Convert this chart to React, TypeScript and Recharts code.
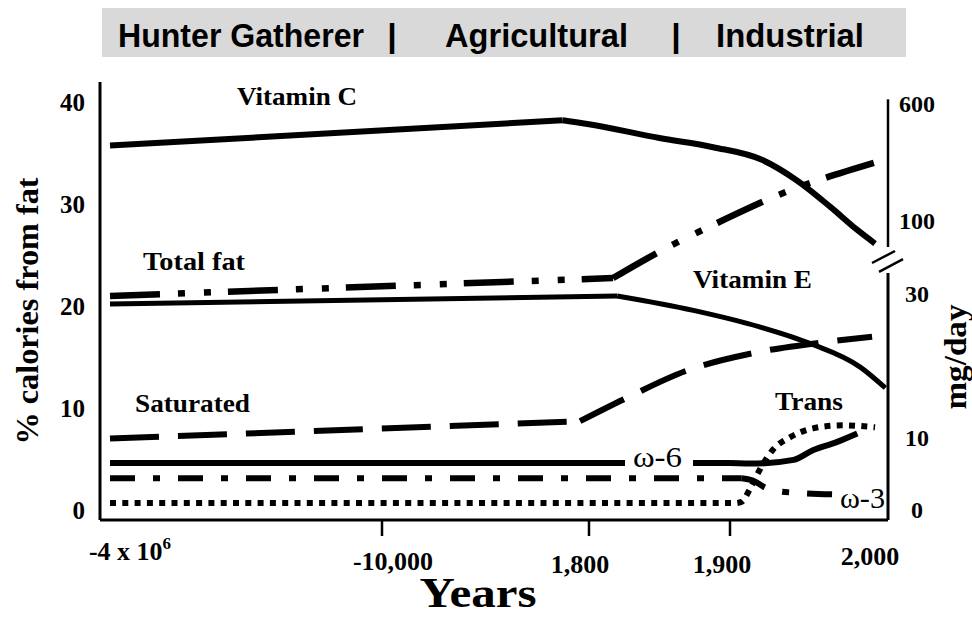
import React from 'react';
import { LineChart, Line, XAxis, YAxis, ReferenceLine } from 'recharts';

// tick values and labels
const YEAR_TICKS = [-4000000, -10000, 1800, 1900, 2000];
const YEAR_LABELS = ['-4 x 10', '-10,000', '1,800', '1,900', '2,000'];
const PCT_TICKS = [0, 10, 20, 30, 40];
const MG_TICKS = [0, 10, 30, 100, 600];

// [year, % calories from fat]
const totalFat = [[-4000000, 21.0], [1817, 22.75], [1848, 25.2], [1890, 28.1], [1936, 31.1], [1998, 34.1]];
const saturated = [[-4000000, 7.0], [1290, 8.7], [1824, 10.8], [1870, 13.7], [1916, 15.4], [1966, 16.5], [1996, 17.0]];
const omega6 = [[-4000000, 4.6], [1900, 4.6], [1918, 4.55], [1943, 4.9], [1956, 5.85], [1972, 6.65], [1986, 7.5]];
const omega3 = [[-4000000, 3.1], [1908, 3.1], [1915, 2.9], [1925, 2.1], [1941, 1.7], [1975, 1.5]];
const trans = [[-4000000, 0.67], [1905, 0.67], [1908, 0.8], [1914, 2.2], [1920, 3.9], [1929, 5.9], [1941, 7.15], [1956, 8.0], [1976, 8.3], [1998, 8.1]];

// [year, mg/day]
const vitaminC = [[-4000000, 420], [300, 528], [1800, 511], [1850, 452], [1888, 413], [1922, 358], [1945, 272], [1968, 157], [1986, 91], [1998, 78]];
const vitaminE = [[-4000000, 28.6], [1820, 29.7], [1874, 27.7], [1920, 25.4], [1954, 23.1], [1988, 19.8], [2005, 16.9]];

// broken axes: where each tick sits on the drawing scale
const X_POS = [10, 282, 489, 630, 778];
const MG_POS = [0, 7.1, 21.2, 28.4, 39.9];
const X_LABEL_DX = [20, 11, -9, -8, -8];
const X_LABEL_DY = [40, 50, 53, 53, 45];

const SERIF = "'Liberation Serif', 'Times New Roman', serif";
const SANS = "'Liberation Sans Narrow', 'Arial Narrow', 'Liberation Sans', Arial, sans-serif";

function interp(v: number, knots: number[], pos: number[]) {
  let i = 0;
  while (i < knots.length - 2 && v > knots[i + 1]) i++;
  const t = (v - knots[i]) / (knots[i + 1] - knots[i]);
  return pos[i] + t * (pos[i + 1] - pos[i]);
}

const rows = (pairs: number[][], mg = false) =>
  pairs.map(([yr, val]) => ({
    x: interp(yr, YEAR_TICKS, X_POS),
    y: mg ? interp(val, MG_TICKS, MG_POS) : val,
  }));

// each series runs straight to its first bend, then curves
function series(pairs: number[][], axis: string, width: number, dash?: string) {
  const d = rows(pairs, axis === 'mg');
  const common = { yAxisId: axis, dataKey: 'y', stroke: '#000', strokeWidth: width, strokeDasharray: dash, dot: false, isAnimationActive: false };
  return [
    <Line key="a" {...common} data={d.slice(0, 2)} type="linear" />,
    <Line key="b" {...common} data={d.slice(1)} type="monotone" />,
  ];
}

const XTick = (props: any) => {
  const { x, y, payload } = props;
  let i = props.index;
  if (i === undefined) i = X_POS.indexOf(payload.value);
  return (
    <g>
      {i > 0 && i < 4 && <line x1={x} y1={y} x2={x} y2={y + 16} stroke="#000" strokeWidth={2.5} />}
      <text x={x + X_LABEL_DX[i]} y={y + X_LABEL_DY[i]} textAnchor="middle" fontFamily={SERIF} fontWeight="bold" fontSize={26} fill="#000">
        {YEAR_LABELS[i]}
        {i === 0 && <tspan dy={-11} fontSize={17}>6</tspan>}
      </text>
    </g>
  );
};

const MgTick = (props: any) => {
  const { x, y, payload } = props;
  let i = props.index;
  if (i === undefined) i = MG_POS.indexOf(payload.value);
  return (
    <text x={x + 29} y={y} dy="0.35em" textAnchor="middle" fontFamily={SERIF} fontWeight="bold" fontSize={24} fill="#000">
      {MG_TICKS[i]}
    </text>
  );
};

const lbl = { fontFamily: SERIF, fontWeight: 'bold' as const, fontSize: 26, fill: '#000' };

export default function App() {
  return (
    <div style={{ position: 'absolute', left: 0, top: 0, width: 972, height: 618, background: '#fff' }}>
      <LineChart width={972} height={618} margin={{ top: 82, right: 24, bottom: 58, left: 40 }}>
        <XAxis dataKey="x" type="number" domain={[0, 788]} ticks={X_POS} interval={0} allowDataOverflow
          tick={<XTick />} tickLine={false} tickSize={0} tickMargin={0} height={40}
          axisLine={{ stroke: '#000', strokeWidth: 3 }} />
        <YAxis yAxisId="pct" type="number" domain={[-1, 42]} ticks={PCT_TICKS} interval={0} width={60}
          tickLine={false} tickSize={0} tickMargin={15} axisLine={{ stroke: '#000', strokeWidth: 3 }}
          tick={{ fontFamily: SERIF, fontWeight: 'bold', fontSize: 25, fill: '#000' }} />
        <YAxis yAxisId="mg" orientation="right" type="number" domain={[-1, 42]} ticks={MG_POS} interval={0} width={60}
          tickLine={false} tickSize={0} tickMargin={0} axisLine={false} tick={<MgTick />} />

        <ReferenceLine yAxisId="mg" ifOverflow="visible" stroke="#000" strokeWidth={2.5}
          segment={[{ x: 788, y: 40.3 }, { x: 788, y: 25.8 }]} />
        <ReferenceLine yAxisId="mg" ifOverflow="visible" stroke="#000" strokeWidth={3}
          segment={[{ x: 788, y: 23.25 }, { x: 788, y: -1 }]} />
        <ReferenceLine yAxisId="mg" ifOverflow="visible" stroke="#000" strokeWidth={2.5}
          segment={[{ x: 772, y: 24.23 }, { x: 795, y: 25.41 }]} />
        <ReferenceLine yAxisId="mg" ifOverflow="visible" stroke="#000" strokeWidth={2.5}
          segment={[{ x: 779, y: 23.35 }, { x: 803, y: 24.62 }]} />

        {series(vitaminC, 'mg', 6)}
        {series(vitaminE, 'mg', 5)}
        {series(totalFat, 'pct', 6.5, '50 18 7 19 7 17')}
        {series(saturated, 'pct', 6, '49 19')}
        {series(omega6, 'pct', 6)}
        {series(omega3, 'pct', 6, '25 18 7 18')}
        {series(trans, 'pct', 6, '6 6.3')}
      </LineChart>

      <svg width={972} height={618} style={{ position: 'absolute', left: 0, top: 0, pointerEvents: 'none' }}>
        <rect x={102} y={8} width={804} height={49} fill="#d9d9d9" />
        <g fontFamily={SANS} fontWeight="bold" fontSize={34} fill="#000">
          <text x={118} y={47} textLength={246} lengthAdjust="spacingAndGlyphs">Hunter Gatherer</text>
          <text x={392} y={47} textAnchor="middle">|</text>
          <text x={445} y={47} textLength={183} lengthAdjust="spacingAndGlyphs">Agricultural</text>
          <text x={676} y={47} textAnchor="middle">|</text>
          <text x={716} y={47} textLength={148} lengthAdjust="spacingAndGlyphs">Industrial</text>
        </g>

        <text x={237} y={105} {...lbl} textLength={120} lengthAdjust="spacingAndGlyphs">Vitamin C</text>
        <text x={143} y={270} {...lbl} textLength={102} lengthAdjust="spacingAndGlyphs">Total fat</text>
        <text x={693} y={288} {...lbl} textLength={119} lengthAdjust="spacingAndGlyphs">Vitamin E</text>
        <text x={135} y={412} {...lbl} textLength={115} lengthAdjust="spacingAndGlyphs">Saturated</text>
        <text x={775} y={410} {...lbl} textLength={68} lengthAdjust="spacingAndGlyphs">Trans</text>

        <rect x={625} y={445} width={68} height={26} fill="#fff" />
        <text x={633} y={467} fontFamily={SERIF} fontSize={30} fill="#000" textLength={49} lengthAdjust="spacingAndGlyphs">ω-6</text>
        <text x={840} y={508} fontFamily={SERIF} fontSize={30} fill="#000" textLength={45} lengthAdjust="spacingAndGlyphs">ω-3</text>

        <text x={478} y={607} textAnchor="middle" fontFamily={SERIF} fontWeight="bold" fontSize={42} fill="#000" textLength={117} lengthAdjust="spacingAndGlyphs">Years</text>
        <text x={38} y={311} transform="rotate(-90 38 311)" textAnchor="middle" fontFamily={SERIF} fontWeight="bold" fontSize={31} fill="#000" textLength={267} lengthAdjust="spacingAndGlyphs">% calories from fat</text>
        <text x={966} y={357} transform="rotate(-90 966 357)" textAnchor="middle" fontFamily={SERIF} fontWeight="bold" fontSize={32} fill="#000" textLength={105} lengthAdjust="spacingAndGlyphs">mg/day</text>
      </svg>
    </div>
  );
}
